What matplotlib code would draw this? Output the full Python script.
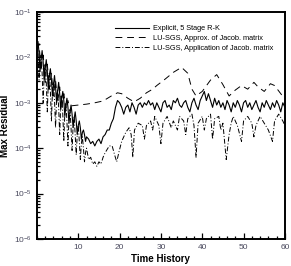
import numpy as np
import matplotlib
matplotlib.use("Agg")
import matplotlib.pyplot as plt
from matplotlib.ticker import LogLocator, MultipleLocator, NullFormatter

plt.rcParams['font.family'] = ['Liberation Sans', 'DejaVu Sans']

# log10 of max residual
t_explicit = [0, 0.25, 0.5, 0.75, 1.0, 1.25, 1.5, 1.75, 2.0, 2.25, 2.5, 2.75, 3.0, 3.25, 3.5, 3.75,
              4.0, 4.25, 4.5, 4.75, 5.0, 5.25, 5.5, 5.75, 6.0, 6.25, 6.5, 6.75, 7.0, 7.25, 7.5, 7.75,
              8.0, 8.25, 8.5, 8.75, 9.0, 9.25, 9.5, 9.75, 10.0, 10.25, 10.5, 10.75, 11.0, 11.25, 11.5, 11.75,
              12, 12.5, 13, 13.5, 14, 14.5, 15, 15.5, 16, 16.5, 17, 17.5, 18, 18.5, 19, 19.5,
              20, 20.5, 21, 21.5, 22, 22.5, 23, 23.5, 24, 24.5, 25, 25.5, 26, 26.5, 27, 27.5,
              28, 28.5, 29, 29.5, 30, 30.5, 31, 31.5, 32, 32.5, 33, 33.5, 34, 34.5, 35, 35.5,
              36, 36.5, 37, 37.5, 38, 38.5, 39, 39.5, 40, 40.5, 41, 41.5, 42, 42.5, 43, 43.5,
              44, 44.5, 45, 45.5, 46, 46.5, 47, 47.5, 48, 48.5, 49, 49.5, 50, 50.5, 51, 51.5,
              52, 52.5, 53, 53.5, 54, 54.5, 55, 55.5, 56, 56.5, 57, 57.5, 58, 58.5, 59, 59.5, 60]
e_explicit = [-1.9, -1.65, -1.9, -2.3, -2.05, -1.85, -2.1, -2.5, -2.25, -2.05, -2.3, -2.7, -2.4, -2.25, -2.5, -2.85,
              -2.6, -2.4, -2.65, -3.0, -2.75, -2.55, -2.8, -3.15, -2.9, -2.75, -2.95, -3.3, -3.05, -2.9, -3.1, -3.45,
              -3.2, -3.05, -3.25, -3.55, -3.35, -3.2, -3.4, -3.7, -3.5, -3.4, -3.55, -3.8, -3.65, -3.6, -3.7, -3.85,
              -3.75, -3.8, -3.9, -3.85, -3.95, -3.85, -3.8, -3.9, -3.75, -3.7, -3.6, -3.6, -3.45, -3.35, -3.1, -2.95,
              -3.0, -3.1, -3.25, -3.1, -3.05, -3.2, -3.0, -3.1, -3.25, -3.05, -3.0, -3.1, -3.0, -3.05, -2.95, -3.05,
              -3.0, -3.15, -3.0, -3.1, -3.2, -3.0, -2.95, -3.1, -3.05, -3.15, -2.95, -3.0, -2.9, -3.05, -3.1, -3.0,
              -2.95, -3.1, -3.2, -3.0, -2.9, -3.05, -3.15, -2.95, -2.85, -2.75, -2.95, -2.8, -2.95, -3.1, -2.9, -3.05,
              -2.95, -3.1, -3.0, -3.15, -2.95, -3.05, -3.2, -3.0, -3.1, -2.95, -3.05, -3.2, -3.0, -2.95, -3.1, -3.0,
              -3.15, -3.05, -2.95, -3.1, -3.2, -3.0, -3.1, -2.95, -3.05, -3.15, -3.0, -3.1, -2.95, -3.05, -3.2, -3.0, -3.1]

t_approx = [0, 0.25, 0.5, 0.75, 1.0, 1.25, 1.5, 1.75, 2.0, 2.25, 2.5, 2.75, 3.0, 3.25, 3.5, 3.75,
            4.0, 4.25, 4.5, 4.75, 5.0, 5.25, 5.5, 5.75, 6.0, 6.25, 6.5, 6.75, 7.0, 7.25, 7.5, 7.75,
            8, 10, 12, 14, 16, 18, 19.5, 20.5, 22, 23.5, 25, 26.5, 28, 29, 31, 33, 35, 36.5, 37.5, 38.5,
            40, 42, 43.5, 45, 46.5, 48, 49.5, 51, 52.5, 53.5, 55, 56.5, 57.5, 59, 60]
e_approx = [-1.8, -1.75, -1.7, -2.0, -2.3, -2.05, -1.95, -2.2, -2.55, -2.3, -2.15, -2.4, -2.7, -2.5, -2.35, -2.6,
            -2.85, -2.65, -2.5, -2.75, -3.0, -2.8, -2.65, -2.85, -3.1, -2.95, -2.8, -2.95, -3.15, -3.05, -2.95, -3.05,
            -3.07, -3.05, -3.03, -3.0, -2.96, -2.85, -2.78, -2.8, -2.9, -2.98, -2.9, -2.78, -2.7, -2.62, -2.48, -2.33, -2.22, -2.35, -2.7, -2.85,
            -2.75, -2.5, -2.38, -2.6, -2.85, -2.72, -2.62, -2.7, -2.55, -2.65, -2.75, -2.58, -2.62, -2.8, -2.92]

t_apply = [0, 0.25, 0.5, 0.75, 1.0, 1.25, 1.5, 1.75, 2.0, 2.25, 2.5, 2.75, 3.0, 3.25, 3.5, 3.75,
           4.0, 4.25, 4.5, 4.75, 5.0, 5.25, 5.5, 5.75, 6.0, 6.25, 6.5, 6.75, 7.0, 7.25, 7.5, 7.75,
           8.0, 8.25, 8.5, 8.75, 9.0, 9.25, 9.5, 9.75, 10.0, 10.25, 10.5, 10.75, 11.0, 11.25, 11.5, 11.75,
           12, 12.5, 13, 13.5, 14, 14.5, 15, 15.5, 16, 16.5, 17.5, 18.2, 18.8, 19.3, 19.8, 20.5, 21.5, 22.3,
           22.8, 23.2, 23.6, 24.5, 25.5, 26, 26.5, 27.5, 28, 28.5, 29.5, 30, 30.5, 31.5, 32.5, 33, 34, 34.5,
           35.5, 36, 36.5, 37.5, 38, 38.5, 39, 40, 40.5, 41, 42, 42.5, 43, 44, 44.5, 45, 45.8, 46.5,
           47, 47.5, 48.5, 49.5, 50, 51, 52, 52.5, 53, 54, 55, 56, 57, 57.5, 58.5, 59.5, 60]
e_apply = [-1.7, -1.9, -2.5, -2.1, -1.95, -2.35, -3.0, -2.35, -2.15, -2.55, -3.2, -2.55, -2.35, -2.75, -3.4, -2.75,
           -2.55, -2.95, -3.55, -2.9, -2.7, -3.1, -3.7, -3.05, -2.85, -3.25, -3.85, -3.2, -3.0, -3.4, -3.95, -3.35,
           -3.15, -3.55, -4.05, -3.5, -3.3, -3.7, -4.15, -3.7, -3.5, -3.85, -4.25, -3.9, -3.75, -4.0, -4.3, -4.1,
           -4.0, -4.25, -4.2, -4.35, -4.3, -4.4, -4.3, -4.35, -4.2, -4.1, -3.95, -3.95, -4.15, -4.3, -4.1, -3.85, -3.65, -3.55,
           -3.7, -4.2, -3.6, -3.45, -3.5, -3.8, -3.5, -3.4, -3.6, -3.3, -3.5, -3.9, -3.45, -3.3, -3.55, -3.4, -3.6, -3.3,
           -3.4, -3.7, -3.35, -3.25, -3.5, -4.2, -3.45, -3.3, -3.6, -3.35, -3.25, -3.8, -3.35, -3.3, -3.6, -3.45, -4.25, -3.7,
           -3.45, -3.3, -3.5, -3.85, -3.4, -3.3, -3.45, -3.75, -3.5, -3.3, -3.45, -3.6, -3.85, -3.4, -3.25, -3.4, -3.5]

labels = ["Explicit, 5 Stage R-K",
          "LU-SGS, Approx. of Jacob. matrix",
          "LU-SGS, Application of Jacob. matrix"]

fig = plt.figure(figsize=(2.91, 2.66), dpi=100)
ax = fig.add_axes([0.127, 0.1015, 0.852, 0.8535])

ax.plot(t_explicit, 10 ** np.array(e_explicit), color='black', lw=0.8, ls='-', label=labels[0])
ax.plot(t_approx, 10 ** np.array(e_approx), color='black', lw=0.7, ls=(0, (7, 5)), label=labels[1])
ax.plot(t_apply, 10 ** np.array(e_apply), color='black', lw=0.7, ls=(0, (5, 2, 1, 2)), label=labels[2])

ax.set_yscale('log')
ax.set_xlim(0, 60)
ax.set_ylim(1e-6, 1e-1)
ax.xaxis.set_major_locator(MultipleLocator(10))
ax.xaxis.set_minor_locator(MultipleLocator(2))
ax.yaxis.set_major_locator(LogLocator(base=10, numticks=10))
ax.yaxis.set_minor_locator(LogLocator(base=10, subs=np.arange(2, 10), numticks=10))
ax.yaxis.set_minor_formatter(NullFormatter())
ax.set_xticks([10, 20, 30, 40, 50, 60])

ax.tick_params(which='both', direction='in', top=False, right=False,
               labelsize=6, labelcolor='#4a4a5e', width=0.9)
ax.tick_params(which='major', length=4)
ax.tick_params(which='minor', length=2)
for s in ax.spines.values():
    s.set_linewidth(1.4)

ax.set_xlabel("Time History", fontsize=7, fontweight='bold', labelpad=2)
ax.set_ylabel("Max Residual", fontsize=7, fontweight='bold', labelpad=3)

ax.legend(loc='upper right', bbox_to_anchor=(0.975, 0.965), frameon=False, fontsize=5.3,
          handlelength=4.6, handletextpad=0.55, labelspacing=0.35, borderaxespad=0.3)

fig.savefig("out.png", dpi=100)
